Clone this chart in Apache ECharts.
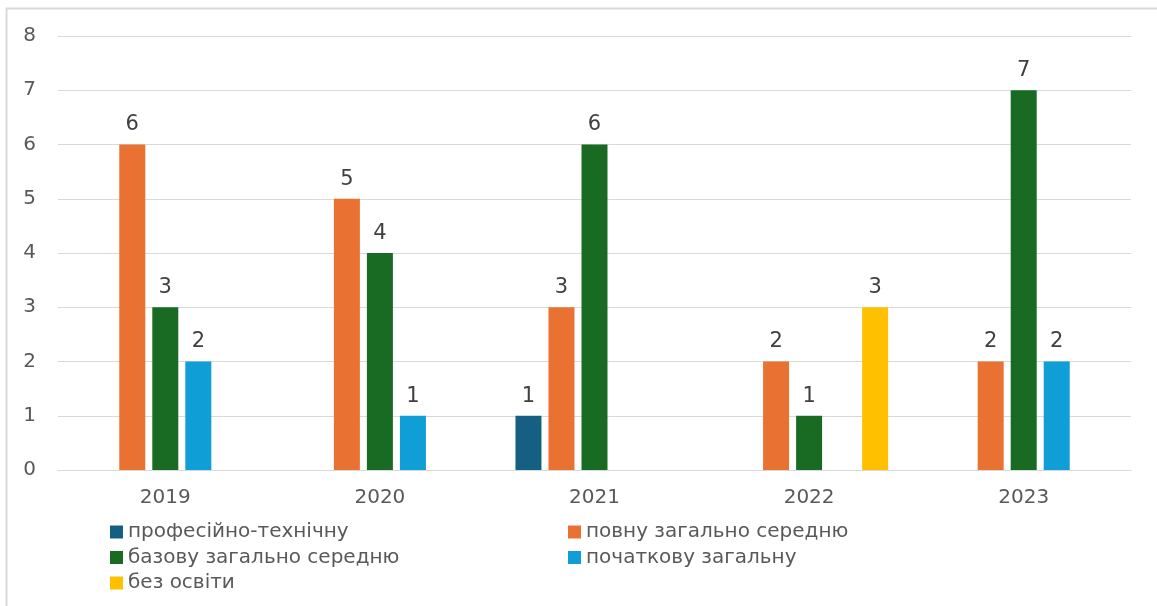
<!DOCTYPE html>
<html>
<head>
<meta charset="utf-8">
<script src="https://cdn.jsdelivr.net/npm/echarts@6/dist/echarts.min.js"></script>
<style>
html,body{margin:0;padding:0;background:#fff;}
#c{width:1157px;height:606px;}
</style>
</head>
<body>
<div id="c"></div>
<script>
const categories = ['2019', '2020', '2021', '2022', '2023'];
const seriesNames = ['професійно-технічну', 'повну загально середню', 'базову загально середню', 'початкову загальну', 'без освіти'];
const profTech = [null, null, 1, null, null];
const povnu = [6, 5, 3, 2, 2];
const bazovu = [3, 4, 6, 1, 7];
const pochatkovu = [2, 1, null, null, 2];
const bezOsvity = [null, null, null, 3, null];
const yTicks = [0, 1, 2, 3, 4, 5, 6, 7, 8];
const colors = ['#156082', '#E97132', '#196B24', '#0F9ED5', '#FFC000'];
const values = [profTech, povnu, bazovu, pochatkovu, bezOsvity];

const font = '"DejaVu Sans", Verdana, sans-serif';
const chart = echarts.init(document.getElementById('c'), null, {renderer: 'canvas'});
const legendText = {fontSize: 20, color: '#595959', fontFamily: font};
chart.setOption({
  animation: false,
  color: colors,
  graphic: [{
    type: 'rect', shape: {x: 6.5, y: 8.5, width: 1160, height: 610},
    style: {fill: 'none', stroke: '#d9d9d9', lineWidth: 2}, silent: true
  }],
  grid: {left: 58, right: 26, top: 36, bottom: 136},
  legend: [
    {data: [seriesNames[0], seriesNames[2], seriesNames[4]], orient: 'vertical', left: 110, top: 522,
     itemWidth: 13, itemHeight: 13, itemGap: 5.5, icon: 'rect', textStyle: legendText, padding: 0},
    {data: [seriesNames[1], seriesNames[3]], orient: 'vertical', left: 568, top: 522,
     itemWidth: 13, itemHeight: 13, itemGap: 5.5, icon: 'rect', textStyle: legendText, padding: 0}
  ],
  xAxis: {
    type: 'category', data: categories,
    axisLine: {lineStyle: {color: '#d9d9d9', width: 1}},
    axisTick: {show: false},
    axisLabel: {fontSize: 20, color: '#595959', fontFamily: font, margin: 18}
  },
  yAxis: {
    type: 'value', min: yTicks[0], max: yTicks[yTicks.length - 1], interval: 1,
    axisLine: {show: false}, axisTick: {show: false},
    splitLine: {lineStyle: {color: '#d9d9d9', width: 1}},
    axisLabel: {fontSize: 20, color: '#595959', fontFamily: font, margin: 22}
  },
  series: seriesNames.map((n, i) => ({
    name: n, type: 'bar', data: values[i], barWidth: 26, barGap: '27%',
    itemStyle: {color: colors[i]},
    label: {show: true, position: 'top', distance: 9, fontSize: 21, color: '#404040', fontFamily: font}
  }))
});
</script>
</body>
</html>
